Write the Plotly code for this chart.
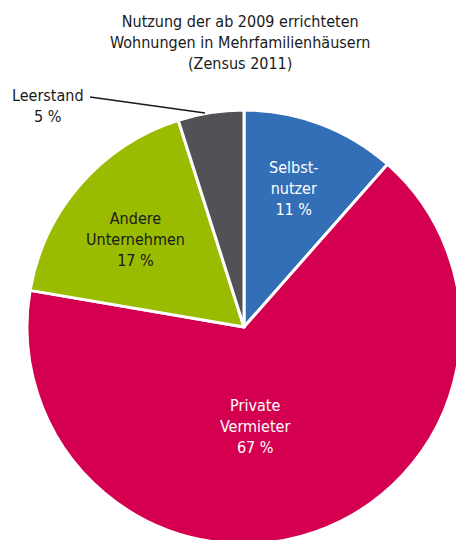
import plotly.graph_objects as go

categories = ["Selbstnutzer", "Private Vermieter", "Andere Unternehmen", "Leerstand"]
values = [11.5, 66.2, 17.4, 4.9]
pct_labels = ["11 %", "67 %", "17 %", "5 %"]
label_lines = ["Selbst-<br>nutzer", "Private<br>Vermieter", "Andere<br>Unternehmen", "Leerstand"]
colors = ["#336fb6", "#d4004f", "#99bb00", "#525256"]

# figure slightly larger than the window so the pie is cropped like the reference
W, H = 464, 554
FONT = "DejaVu Sans Condensed, sans-serif"

cx, cy, r = 244, 327, 217

fig = go.Figure(go.Pie(
    labels=categories,
    values=values,
    sort=False,
    direction="clockwise",
    rotation=0,
    marker=dict(colors=colors, line=dict(color="white", width=3)),
    textinfo="none",
    hoverinfo="label+percent",
    showlegend=False,
    domain=dict(x=[(cx - r) / W, (cx + r) / W], y=[(H - cy - r) / H, (H - cy + r) / H]),
))

def px(x, y):
    return x / W, 1 - y / H

positions = [(293, 189, "white"), (255, 426, "white"), (135, 240, "#1a1a1a"), (48, 106, "#1a1a1a")]
annotations = []
for name, pct, (x, y, col) in zip(label_lines, pct_labels, positions):
    ax, ay = px(x, y)
    annotations.append(dict(x=ax, y=ay, xref="paper", yref="paper", text=f"{name}<br>{pct}",
                            showarrow=False, font=dict(family=FONT, size=16, color=col),
                            xanchor="center", yanchor="middle", align="center"))

tx, ty = px(240, 43)
annotations.append(dict(x=tx, y=ty, xref="paper", yref="paper",
                        text="Nutzung der ab 2009 errichteten<br>Wohnungen in Mehrfamilienhäusern<br>(Zensus 2011)",
                        showarrow=False, font=dict(family=FONT, size=16, color="#1a1a1a"),
                        xanchor="center", yanchor="middle", align="center"))

x0, y0 = px(90, 97)
x1, y1 = px(205, 113)
shapes = [dict(type="line", xref="paper", yref="paper", x0=x0, y0=y0, x1=x1, y1=y1,
               line=dict(color="#1a1a1a", width=1.5))]

fig.update_layout(width=W, height=H, margin=dict(l=0, r=0, t=0, b=0),
                  paper_bgcolor="white", plot_bgcolor="white",
                  annotations=annotations, shapes=shapes)

fig.write_html("out.html", config={"displayModeBar": False},
               post_script="document.body.style.margin='0';document.body.style.overflow='hidden';")
